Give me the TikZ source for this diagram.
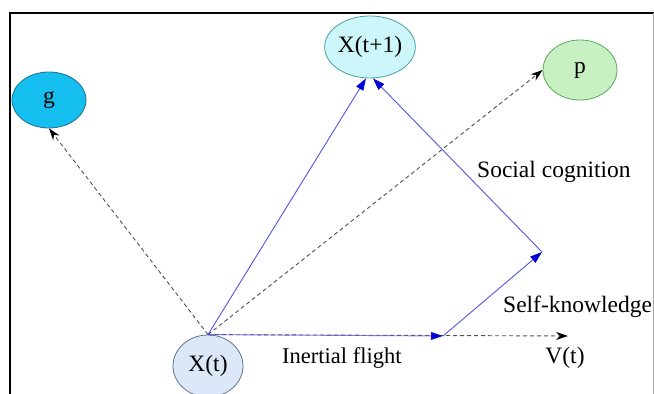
\documentclass[tikz,border=0pt]{standalone}
\usepackage{fontspec}
\setmainfont{Liberation Serif}
\usetikzlibrary{arrows.meta,shapes.geometric}
\definecolor{gfill}{RGB}{20,190,238}
\definecolor{gdraw}{RGB}{30,110,140}
\definecolor{xtpfill}{RGB}{205,246,250}
\definecolor{xtpdraw}{RGB}{70,160,160}
\definecolor{pfill}{RGB}{200,240,195}
\definecolor{pdraw}{RGB}{90,170,90}
\definecolor{xtfill}{RGB}{220,232,248}
\definecolor{xtdraw}{RGB}{95,115,145}
\definecolor{bline}{RGB}{85,85,225}
\definecolor{btip}{RGB}{0,0,210}
\definecolor{dline}{RGB}{80,80,80}
\tikzset{
  ell/.style={ellipse, minimum width=74pt, minimum height=60pt, inner sep=0pt, line width=0.8pt, font=\fontsize{23.5}{26}\selectfont},
  lbl/.style={font=\fontsize{23.5}{26}\selectfont, inner sep=0pt},
  bluearrow/.style={draw=bline, line width=0.9pt, -{Triangle[length=12pt,width=8pt,color=btip,fill=btip]}},
  dasharrow/.style={draw=dline, line width=0.9pt, dash pattern=on 4pt off 3pt, -{Stealth[length=12pt,width=8pt,color=black,fill=black]}}
}
\begin{document}
\begin{tikzpicture}[x=1pt,y=-1pt]
\useasboundingbox (0,0) rectangle (654,394);
\clip (0,0) rectangle (654,394);
\fill[white] (0,0) rectangle (654,394);
% frame
\draw[line width=2pt, black] (9.5,394) -- (9.5,13) -- (654,13);
\draw[line width=0.8pt, gray!70] (653,13) -- (653,394);
% nodes
\node[ell, minimum height=56pt, fill=gfill, draw=gdraw] (g) at (49,100) {g};
\node[ell, minimum height=62pt, fill=xtpfill, draw=xtpdraw] (xtp) at (370,47) {X(t+1)};
\node[ell, fill=pfill, draw=pdraw] (p) at (580,70) {p};
\node[ell, minimum width=70pt, minimum height=62pt, fill=xtfill, draw=xtdraw] (xt) at (208,366) {X(t)};
% coordinates
\coordinate (a) at (443,336);
\coordinate (b) at (542,252);
\coordinate (v) at (568,336);
% dashed arrows
\draw[dasharrow] (xt.north) -- (g.south);
\draw[dasharrow] (xt.north) -- (p.west);
\draw[dasharrow] (xt.north) -- (v);
% blue arrows
\draw[bluearrow] (xt.north) -- ([xshift=-4pt]xtp.south);
\draw[bluearrow, draw opacity=0.75] (xt.north) -- (a);
\draw[bluearrow] (a) -- (b);
\draw[bluearrow] (b) -- ([xshift=3pt]xtp.south);
% labels
\node[lbl, anchor=base west] (sc) at (477,177) {Social cognition};
\node[lbl, anchor=base west] (sk) at (503,312) {Self-knowledge};
\node[lbl, anchor=base west, font=\fontsize{22.5}{26}\selectfont] (inf) at (282,363) {Inertial flight};
\node[lbl, anchor=base] (vt) at (565,363) {V(t)};
\end{tikzpicture}
\end{document}
